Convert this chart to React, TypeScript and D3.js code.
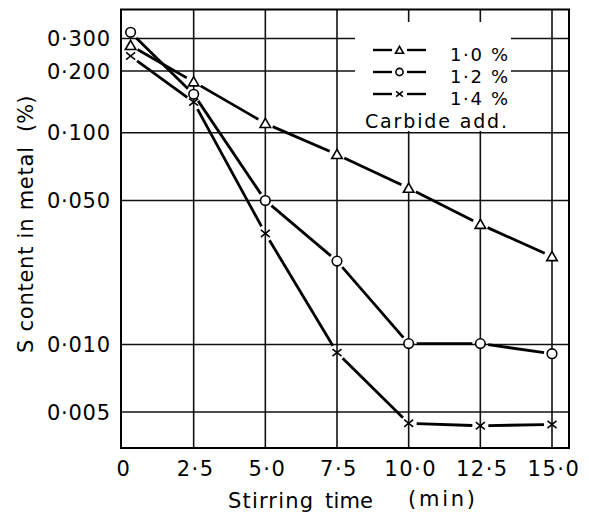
import React from "react";
import * as d3 from "d3";

const timeX = [0.3, 2.5, 5, 7.5, 10, 12.5, 15];
const s10 = [0.275, 0.177, 0.111, 0.08, 0.0567, 0.0383, 0.0267];
const s12 = [0.324, 0.154, 0.05, 0.0254, 0.0101, 0.0101, 0.0091];
const s14 = [0.241, 0.141, 0.0346, 0.0092, 0.00445, 0.00434, 0.0044];
const seriesLabels = ["1·0 %", "1·2 %", "1·4 %"];
const seriesMarkers = ["triangle", "circle", "cross"];
const yTickValues = [0.3, 0.2, 0.1, 0.05, 0.01, 0.005];
const yTickLabels = ["0·300", "0·200", "0·100", "0·050", "0·010", "0·005"];
const xTickValues = [0, 2.5, 5, 7.5, 10, 12.5, 15];
const xTickLabels = ["0", "2·5", "5·0", "7·5", "10·0", "12·5", "15·0"];

const W = 589;
const H = 513;
const FONT = "'DejaVu Sans', sans-serif";

const x = d3.scaleLinear().domain([0, 15]).range([122, 552]);
// hand-drawn log paper: piecewise log scale through the printed gridlines
const y = d3
  .scaleLog()
  .domain([0.005, 0.01, 0.05, 0.1, 0.2, 0.3])
  .range([412, 344.5, 200.5, 132.7, 71, 38.5]);

const frame = { left: 121, right: 569, top: 9.5, bottom: 448 };

function Marker({ kind, cx, cy, s = 1 }: { kind: string; cx: number; cy: number; s?: number }) {
  if (kind === "triangle") {
    const p = d3.symbol(d3.symbolTriangle, 48 * s * s)();
    return <path d={p || ""} transform={`translate(${cx},${cy + 1})`} fill="#fff" stroke="#000" strokeWidth={1.6} />;
  }
  if (kind === "circle") {
    return <circle cx={cx} cy={cy} r={4.8 * s} fill="#fff" stroke="#000" strokeWidth={1.6} />;
  }
  const a = 4.5 * s;
  const b = 3.6 * s;
  return (
    <g stroke="#000" strokeWidth={1.6}>
      <line x1={cx - a} y1={cy - b} x2={cx + a} y2={cy + b} />
      <line x1={cx - a} y1={cy + b} x2={cx + a} y2={cy - b} />
    </g>
  );
}

function Series({ values, kind }: { values: number[]; kind: string }) {
  const pts = values.map((v, i) => [x(timeX[i]), y(v)] as [number, number]);
  const gap = 8;
  const segs = [];
  for (let i = 0; i < pts.length - 1; i++) {
    const [x1, y1] = pts[i];
    const [x2, y2] = pts[i + 1];
    const len = Math.hypot(x2 - x1, y2 - y1);
    const ux = (x2 - x1) / len;
    const uy = (y2 - y1) / len;
    segs.push(
      <line
        key={i}
        x1={x1 + ux * gap}
        y1={y1 + uy * gap}
        x2={x2 - ux * gap}
        y2={y2 - uy * gap}
        stroke="#000"
        strokeWidth={2.8}
      />
    );
  }
  return (
    <g>
      {segs}
      {pts.map((p, i) => (
        <Marker key={i} kind={kind} cx={p[0]} cy={p[1]} />
      ))}
    </g>
  );
}

export default function App() {
  const allSeries = [s10, s12, s14];
  const legendRows = [50, 72, 94];
  const legendText = [61, 83, 105];
  return (
    <svg
      width={W}
      height={H}
      viewBox={`0 0 ${W} ${H}`}
      style={{ position: "absolute", left: 0, top: 0, background: "#fff" }}
    >
      <rect x={0} y={0} width={W} height={H} fill="#fff" />
      {/* gridlines */}
      <g stroke="#111" strokeWidth={1.6}>
        {yTickValues.map((v) => (
          <line key={v} x1={frame.left} x2={frame.right} y1={y(v)} y2={y(v)} />
        ))}
        {xTickValues.slice(1).map((v) => (
          <line key={v} x1={x(v)} x2={x(v)} y1={frame.top} y2={frame.bottom} />
        ))}
      </g>
      {/* legend background */}
      <rect x={355} y={22} width={156} height={109} fill="#fff" />
      <rect
        x={frame.left}
        y={frame.top}
        width={frame.right - frame.left}
        height={frame.bottom - frame.top}
        fill="none"
        stroke="#000"
        strokeWidth={2}
      />
      {/* series */}
      {allSeries.map((s, i) => (
        <Series key={i} values={s} kind={seriesMarkers[i]} />
      ))}
      {/* legend */}
      {seriesLabels.map((lab, i) => (
        <g key={lab}>
          <line x1={373} x2={392} y1={legendRows[i]} y2={legendRows[i]} stroke="#000" strokeWidth={2.4} />
          <line x1={407} x2={426} y1={legendRows[i]} y2={legendRows[i]} stroke="#000" strokeWidth={2.4} />
          <Marker kind={seriesMarkers[i]} cx={399.5} cy={legendRows[i]} s={0.75} />
          <text
            x={450}
            y={legendText[i]}
            fontFamily={FONT}
            fontSize={18}
            textLength={58}
            lengthAdjust="spacing"
          >
            {lab}
          </text>
        </g>
      ))}
      <text x={365} y={128} fontFamily={FONT} fontSize={19} textLength={142} lengthAdjust="spacing">
        Carbide add.
      </text>
      {/* y tick labels */}
      {yTickValues.map((v, i) => (
        <text
          key={v}
          x={47}
          y={y(v) + 7.5}
          fontFamily={FONT}
          fontSize={21}
          textLength={63}
          lengthAdjust="spacing"
        >
          {yTickLabels[i]}
        </text>
      ))}
      {/* x tick labels */}
      {xTickValues.map((v, i) => (
        <text
          key={v}
          x={x(v) + 2}
          y={476}
          textAnchor="middle"
          fontFamily={FONT}
          fontSize={21}
          letterSpacing={1.5}
        >
          {xTickLabels[i]}
        </text>
      ))}
      {/* axis titles */}
      <text x={228} y={508} fontFamily={FONT} fontSize={21} textLength={85} lengthAdjust="spacing">
        Stirring
      </text>
      <text x={325} y={508} fontFamily={FONT} fontSize={21} textLength={48} lengthAdjust="spacing">
        time
      </text>
      <text x={408} y={506} fontFamily={FONT} fontSize={21} textLength={67} lengthAdjust="spacing">
        (min)
      </text>
      <text
        transform="translate(33,353) rotate(-90)"
        fontFamily={FONT}
        fontSize={21}
        textLength={206}
        lengthAdjust="spacing"
      >
        S content in metal
      </text>
      <text transform="translate(33,132) rotate(-90)" fontFamily={FONT} fontSize={21}>
        (%)
      </text>
    </svg>
  );
}
